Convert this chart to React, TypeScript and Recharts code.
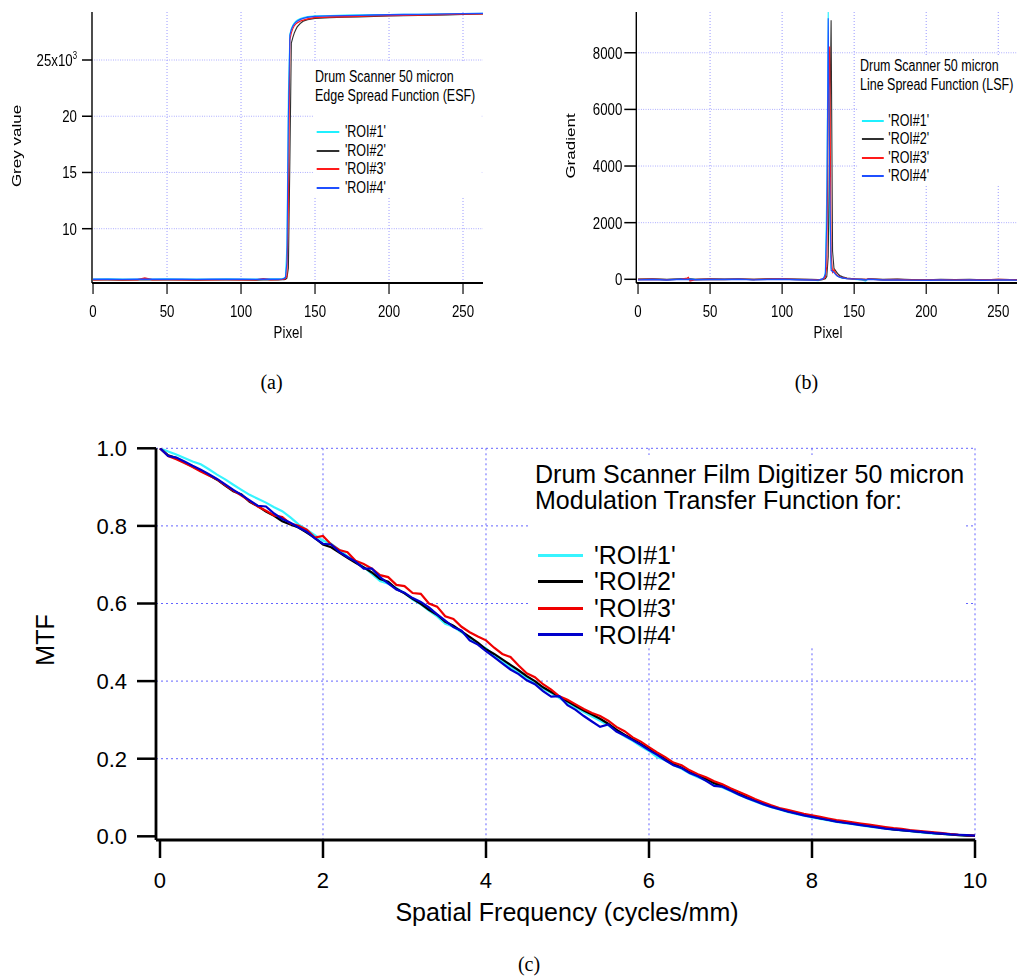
import React from 'react';
import { LineChart, Line, XAxis, YAxis, CartesianGrid } from 'recharts';

// ---------- data ----------
const seriesNames = ["'ROI#1'", "'ROI#2'", "'ROI#3'", "'ROI#4'"];
const topColors = ['#1ff0ff', '#303030', '#ff1a1a', '#1f4fff'];
const mtfColors = ['#38f4ff', '#000000', '#f00000', '#0000cc'];

const pixelTicks = [0, 50, 100, 150, 200, 250];
const esfYTicks = [10000, 15000, 20000, 25000];
const lsfYTicks = [0, 2000, 4000, 6000, 8000];
const freqTicks = [0, 2, 4, 6, 8, 10];
const mtfYTicks = [0, 0.2, 0.4, 0.6, 0.8, 1.0];

const esfPixels = [0, 10, 20, 30, 35, 40, 50, 60, 70, 80, 90, 100, 110, 115, 120, 125, 128, 129, 130, 131, 132, 133, 134, 135, 136, 137, 138, 140, 142, 145, 150, 160, 170, 180, 190, 200, 210, 220, 230, 240, 250, 264];
const esf1 = [5520, 5530, 5510, 5520, 5530, 5520, 5530, 5520, 5510, 5520, 5530, 5520, 5510, 5520, 5530, 5530, 5560, 5600, 5700, 8500, 22000, 27300, 27800, 28100, 28300, 28450, 28550, 28680, 28760, 28850, 28920, 28950, 28980, 29000, 29020, 29030, 29050, 29060, 29080, 29100, 29120, 29150];
const esf2 = [5450, 5460, 5440, 5450, 5460, 5450, 5460, 5450, 5440, 5450, 5460, 5450, 5440, 5450, 5460, 5460, 5470, 5480, 5500, 5600, 6500, 16000, 26500, 27000, 27400, 27700, 27950, 28250, 28450, 28600, 28700, 28780, 28820, 28850, 28880, 28920, 28950, 28970, 29000, 29030, 29060, 29100];
const esf3 = [5460, 5470, 5450, 5460, 5620, 5460, 5470, 5460, 5450, 5460, 5470, 5460, 5450, 5560, 5460, 5470, 5490, 5520, 5560, 5800, 12000, 26800, 27400, 27800, 28050, 28200, 28300, 28450, 28550, 28650, 28780, 28820, 28850, 28880, 28920, 28950, 28980, 29000, 29030, 29060, 29080, 29100];
const esf4 = [5500, 5510, 5490, 5500, 5510, 5500, 5510, 5500, 5490, 5500, 5510, 5500, 5490, 5500, 5510, 5510, 5540, 5580, 5650, 7000, 20000, 27200, 27700, 28000, 28200, 28350, 28450, 28600, 28700, 28800, 28880, 28920, 28950, 28970, 29000, 29020, 29040, 29060, 29080, 29100, 29120, 29150];

const lsfPixels = [0, 10, 20, 30, 34, 35, 36, 40, 50, 60, 70, 80, 90, 100, 110, 120, 125, 128, 129, 130, 131, 132, 133, 134, 135, 136, 137, 138, 139, 140, 142, 145, 150, 155, 158, 160, 170, 180, 190, 200, 210, 220, 230, 240, 250, 264];
const lsf1 = [-10, 5, -15, 10, 0, -5, 5, -10, 0, -5, 5, -10, 0, 5, -10, -20, -40, 0, 40, 250, 3200, 9450, 2200, 400, 320, 260, 190, 130, 100, 70, 45, 25, 0, -20, -60, 20, -20, -10, -30, -40, -20, -30, -20, -30, -20, -30];
const lsf2 = [0, 10, -5, 15, 5, 0, 10, -5, 10, 0, 15, -5, 10, 15, 0, -10, -15, -5, 5, 20, 100, 800, 5000, 9150, 1000, 380, 310, 240, 180, 130, 80, 40, 15, 0, -10, 10, -10, 0, -15, -20, -10, -15, -10, -20, -10, -15];
const lsf3 = [-10, 0, -15, 5, 40, 70, -60, -10, 0, -5, 5, -10, 0, 10, -5, -15, -20, 0, 20, 80, 450, 6000, 8220, 900, 250, 340, 220, 150, 110, 85, 50, 30, 10, -5, -10, 10, -15, -10, -20, -25, -15, -20, -15, -25, -10, -20];
const lsf4 = [-20, -10, -25, 0, -10, -5, 0, -15, -5, -10, 0, -20, -5, 0, -15, -25, -30, 10, 60, 180, 2100, 9220, 3600, 320, 280, 240, 180, 130, 95, 75, 45, 25, 5, -10, -20, 0, -25, -20, -30, -35, -25, -30, -25, -35, -20, -30];

const freq = [0, 0.1, 0.2, 0.3, 0.4, 0.5, 0.6, 0.7, 0.8, 0.9, 1.0, 1.1, 1.2, 1.3, 1.4, 1.5, 1.6, 1.7, 1.8, 1.9, 2.0, 2.1, 2.2, 2.3, 2.4, 2.5, 2.6, 2.7, 2.8, 2.9, 3.0, 3.1, 3.2, 3.3, 3.4, 3.5, 3.6, 3.7, 3.8, 3.9, 4.0, 4.1, 4.2, 4.3, 4.4, 4.5, 4.6, 4.7, 4.8, 4.9, 5.0, 5.1, 5.2, 5.3, 5.4, 5.5, 5.6, 5.7, 5.8, 5.9, 6.0, 6.1, 6.2, 6.3, 6.4, 6.5, 6.6, 6.7, 6.8, 6.9, 7.0, 7.1, 7.2, 7.3, 7.4, 7.5, 7.6, 7.7, 7.8, 7.9, 8.0, 8.1, 8.2, 8.3, 8.4, 8.5, 8.6, 8.7, 8.8, 8.9, 9.0, 9.1, 9.2, 9.3, 9.4, 9.5, 9.6, 9.7, 9.8, 9.9, 10.0];
const mtf1 = [1.000, 0.992, 0.984, 0.975, 0.966, 0.959, 0.946, 0.932, 0.920, 0.906, 0.893, 0.880, 0.870, 0.860, 0.848, 0.838, 0.822, 0.804, 0.790, 0.776, 0.762, 0.754, 0.738, 0.722, 0.707, 0.694, 0.676, 0.658, 0.651, 0.640, 0.627, 0.610, 0.598, 0.582, 0.567, 0.548, 0.540, 0.526, 0.510, 0.496, 0.484, 0.466, 0.450, 0.436, 0.422, 0.408, 0.394, 0.380, 0.369, 0.356, 0.343, 0.332, 0.320, 0.309, 0.298, 0.286, 0.272, 0.258, 0.246, 0.232, 0.220, 0.204, 0.196, 0.184, 0.174, 0.162, 0.152, 0.144, 0.134, 0.126, 0.117, 0.107, 0.098, 0.090, 0.082, 0.075, 0.069, 0.063, 0.058, 0.053, 0.049, 0.045, 0.041, 0.037, 0.034, 0.031, 0.028, 0.025, 0.022, 0.020, 0.017, 0.015, 0.013, 0.011, 0.009, 0.007, 0.006, 0.004, 0.003, 0.002, 0.001];
const mtf2 = [1.000, 0.982, 0.975, 0.964, 0.953, 0.943, 0.931, 0.919, 0.904, 0.889, 0.881, 0.862, 0.851, 0.837, 0.826, 0.812, 0.804, 0.796, 0.783, 0.769, 0.752, 0.745, 0.731, 0.718, 0.705, 0.693, 0.680, 0.663, 0.656, 0.638, 0.626, 0.612, 0.599, 0.584, 0.571, 0.553, 0.543, 0.528, 0.514, 0.499, 0.482, 0.470, 0.456, 0.442, 0.428, 0.413, 0.400, 0.384, 0.372, 0.360, 0.348, 0.336, 0.324, 0.314, 0.303, 0.290, 0.275, 0.262, 0.250, 0.238, 0.226, 0.213, 0.199, 0.187, 0.177, 0.166, 0.157, 0.148, 0.137, 0.130, 0.121, 0.110, 0.101, 0.093, 0.085, 0.078, 0.071, 0.065, 0.060, 0.055, 0.051, 0.047, 0.043, 0.039, 0.036, 0.033, 0.030, 0.027, 0.024, 0.021, 0.018, 0.016, 0.014, 0.012, 0.010, 0.008, 0.006, 0.005, 0.003, 0.002, 0.001];
const mtf3 = [1.000, 0.980, 0.972, 0.962, 0.952, 0.940, 0.930, 0.920, 0.905, 0.891, 0.878, 0.864, 0.850, 0.839, 0.827, 0.823, 0.806, 0.800, 0.790, 0.770, 0.774, 0.752, 0.738, 0.732, 0.710, 0.702, 0.690, 0.673, 0.668, 0.648, 0.645, 0.627, 0.625, 0.600, 0.592, 0.567, 0.560, 0.540, 0.526, 0.515, 0.505, 0.486, 0.470, 0.462, 0.440, 0.420, 0.410, 0.392, 0.378, 0.361, 0.352, 0.340, 0.328, 0.318, 0.310, 0.298, 0.282, 0.271, 0.255, 0.244, 0.230, 0.216, 0.204, 0.190, 0.183, 0.170, 0.160, 0.152, 0.142, 0.134, 0.124, 0.115, 0.106, 0.096, 0.088, 0.080, 0.073, 0.068, 0.063, 0.058, 0.054, 0.050, 0.046, 0.042, 0.039, 0.036, 0.033, 0.030, 0.027, 0.024, 0.021, 0.019, 0.016, 0.014, 0.012, 0.010, 0.008, 0.006, 0.004, 0.003, 0.002];
const mtf4 = [1.000, 0.980, 0.976, 0.966, 0.955, 0.945, 0.933, 0.921, 0.907, 0.893, 0.880, 0.866, 0.852, 0.850, 0.832, 0.818, 0.808, 0.796, 0.785, 0.768, 0.754, 0.752, 0.733, 0.720, 0.708, 0.690, 0.690, 0.668, 0.652, 0.636, 0.628, 0.614, 0.604, 0.590, 0.572, 0.556, 0.539, 0.530, 0.505, 0.494, 0.477, 0.462, 0.446, 0.430, 0.418, 0.402, 0.392, 0.374, 0.360, 0.361, 0.338, 0.326, 0.310, 0.296, 0.282, 0.288, 0.270, 0.260, 0.248, 0.236, 0.222, 0.210, 0.196, 0.183, 0.176, 0.163, 0.155, 0.143, 0.130, 0.128, 0.118, 0.108, 0.099, 0.091, 0.083, 0.076, 0.070, 0.064, 0.059, 0.054, 0.050, 0.046, 0.042, 0.038, 0.035, 0.032, 0.029, 0.026, 0.023, 0.020, 0.018, 0.016, 0.014, 0.012, 0.010, 0.008, 0.007, 0.005, 0.004, 0.003, 0.002];

const esfTitle = ['Drum Scanner 50 micron', 'Edge Spread Function (ESF)'];
const lsfTitle = ['Drum Scanner 50 micron', 'Line Spread Function (LSF)'];
const mtfTitle = ['Drum Scanner Film Digitizer 50 micron', 'Modulation Transfer Function for:'];

// ---------- helpers ----------
const zipXY = (xs: number[], ys: number[]) => xs.map((x, i) => ({ x, y: ys[i] }));
const esfSeries = [esf1, esf2, esf3, esf4].map((ys) => zipXY(esfPixels, ys));
const lsfSeries = [lsf1, lsf2, lsf3, lsf4].map((ys) => zipXY(lsfPixels, ys));
const mtfSeries = [mtf1, mtf2, mtf3, mtf4].map((ys) => zipXY(freq, ys));

const FONT = "'Liberation Sans', Arial, Helvetica, sans-serif";
const SERIF = "'Liberation Serif', 'DejaVu Serif', serif";
const S = 0.78; // horizontal squeeze of the two upper panels
const TOP_TICK_FS = 17;

const EsfYTick = (props: any) => {
  const { x, y, payload } = props;
  const v = payload.value;
  return (
    <text x={x} y={y} dy="0.355em" textAnchor="end" fontSize={TOP_TICK_FS} fill="#000" fontFamily={FONT}>
      {v === 25000 ? (
        <>
          25x10<tspan dy={-7} fontSize={10}>3</tspan>
        </>
      ) : (
        String(v / 1000)
      )}
    </text>
  );
};

type LegendProps = {
  left: number; top: number; width: number; height: number;
  padTop: number; padLeft: number; titles: string[]; titleLH: number;
  fontSize: number; gap: number; rowH: number; swLeft: number; swW: number; swH: number;
  textGap: number; colors: string[];
};
const LegendBox = (p: LegendProps) => (
  <div style={{ position: 'absolute', left: p.left, top: p.top, width: p.width, height: p.height, background: '#fff', boxSizing: 'border-box', paddingTop: p.padTop, fontFamily: FONT, fontSize: p.fontSize, color: '#000', whiteSpace: 'nowrap' }}>
    {p.titles.map((t) => (
      <div key={t} style={{ lineHeight: p.titleLH + 'px', height: p.titleLH, paddingLeft: p.padLeft }}>{t}</div>
    ))}
    <div style={{ height: p.gap }} />
    {seriesNames.map((n, i) => (
      <div key={n} style={{ display: 'flex', alignItems: 'center', height: p.rowH, lineHeight: p.rowH + 'px' }}>
        <div style={{ marginLeft: p.swLeft, width: p.swW, height: p.swH, background: p.colors[i] }} />
        <span style={{ marginLeft: p.textGap }}>{n}</span>
      </div>
    ))}
  </div>
);

const RotLabel = ({ cx, cy, text, size }: { cx: number; cy: number; text: string; size: number }) => (
  <div style={{ position: 'absolute', left: cx, top: cy, transform: 'translate(-50%, -50%) rotate(-90deg)', fontFamily: FONT, fontSize: size, whiteSpace: 'nowrap', lineHeight: 1 }}>{text}</div>
);
const HLabel = ({ cx, top, text, size, family }: { cx: number; top: number; text: string; size: number; family?: string }) => (
  <div style={{ position: 'absolute', left: cx, top, transform: 'translateX(-50%)', fontFamily: family || FONT, fontSize: size, whiteSpace: 'nowrap', lineHeight: size + 'px' }}>{text}</div>
);

const axisStyle = (w: number) => ({ stroke: '#000', strokeWidth: w });

// ---------- panels ----------
const PanelA = () => {
  const W = 500 / S;
  const yw = 80 / S;
  return (
    <div style={{ position: 'absolute', left: 0, top: 0, width: W, height: 345, transform: `scaleX(${S})`, transformOrigin: '0 0' }}>
      <LineChart width={W} height={345} margin={{ top: 12, right: 17 / S, bottom: 22, left: 92 / S - yw }}>
        <CartesianGrid stroke="#8c8cff" strokeDasharray="1 2" horizontalValues={esfYTicks} verticalValues={pixelTicks.filter((t) => t > 0)} />
        <XAxis dataKey="x" type="number" domain={[-0.7, 263.5]} allowDataOverflow ticks={pixelTicks} interval={0} height={40}
          tickSize={11} tickMargin={11} axisLine={axisStyle(1.8)} tickLine={axisStyle(1.5)} tick={{ fill: '#000', fontSize: TOP_TICK_FS, fontFamily: FONT }} />
        <YAxis dataKey="y" type="number" domain={[5172, 29268]} allowDataOverflow ticks={esfYTicks} interval={0} width={yw}
          tickSize={10 / S} tickMargin={5 / S} axisLine={axisStyle(1.8)} tickLine={axisStyle(1.5)} tick={<EsfYTick />} />
        {esfSeries.map((d, i) => (
          <Line key={i} data={d} dataKey="y" type="linear" stroke={topColors[i]} strokeWidth={1.4} dot={false} isAnimationActive={false} />
        ))}
      </LineChart>
      <RotLabel cx={16 / S} cy={146} text="Grey value" size={17} />
      <HLabel cx={288 / S} top={324} text="Pixel" size={17} />
      <LegendBox left={313 / S} top={62} width={168 / S} height={134} padTop={4.5} padLeft={2 / S} titles={esfTitle} titleLH={19}
        fontSize={16} gap={18.5} rowH={18.5} swLeft={3.7 / S} swW={22.6 / S} swH={2} textGap={5.7 / S} colors={topColors} />
    </div>
  );
};

const PanelB = () => {
  const W = 517 / S;
  const yw = 120 / S;
  return (
    <div style={{ position: 'absolute', left: 500, top: 0, width: W, height: 345, transform: `scaleX(${S})`, transformOrigin: '0 0' }}>
      <LineChart width={W} height={345} margin={{ top: 12, right: 0, bottom: 22, left: 136.3 / S - yw }}>
        <CartesianGrid stroke="#8c8cff" strokeDasharray="1 2" horizontalValues={lsfYTicks.filter((t) => t > 0)} verticalValues={pixelTicks.filter((t) => t > 0)} />
        <XAxis dataKey="x" type="number" domain={[-1.2, 263]} allowDataOverflow ticks={pixelTicks} interval={0} height={40}
          tickSize={11} tickMargin={11} axisLine={axisStyle(1.8)} tickLine={axisStyle(1.5)} tick={{ fill: '#000', fontSize: TOP_TICK_FS, fontFamily: FONT }} />
        <YAxis dataKey="y" type="number" domain={[-131, 9440]} allowDataOverflow ticks={lsfYTicks} interval={0} width={yw}
          tickSize={12 / S} tickMargin={2 / S} axisLine={axisStyle(1.8)} tickLine={axisStyle(1.5)} tick={{ fill: '#000', fontSize: TOP_TICK_FS, fontFamily: FONT }} />
        {lsfSeries.map((d, i) => (
          <Line key={i} data={d} dataKey="y" type="linear" stroke={topColors[i]} strokeWidth={1.4} dot={false} isAnimationActive={false} />
        ))}
      </LineChart>
      <RotLabel cx={70.7 / S} cy={146} text="Gradient" size={17} />
      <HLabel cx={328 / S} top={324} text="Pixel" size={17} />
      <LegendBox left={358 / S} top={55} width={159 / S} height={130} padTop={0.5} padLeft={2 / S} titles={lsfTitle} titleLH={19}
        fontSize={16} gap={18.5} rowH={18.3} swLeft={4.3 / S} swW={21.7 / S} swH={2} textGap={4.3 / S} colors={topColors} />
    </div>
  );
};

const PanelC = () => (
  <div style={{ position: 'absolute', left: 0, top: 390, width: 1017, height: 587 }}>
    <LineChart width={1017} height={587} margin={{ top: 58.3, right: 42, bottom: 77, left: 56 }}>
      <CartesianGrid stroke="#6464ff" strokeDasharray="2 3" horizontalValues={mtfYTicks.filter((t) => t > 0)} verticalValues={freqTicks.filter((t) => t > 0)} />
      <XAxis dataKey="x" type="number" domain={[-0.049, 10]} allowDataOverflow ticks={freqTicks} interval={0} height={60}
        tickSize={18} tickMargin={14} axisLine={axisStyle(2.8)} tickLine={axisStyle(2.5)} tick={{ fill: '#000', fontSize: 22, fontFamily: FONT }} />
      <YAxis dataKey="y" type="number" domain={[-0.0095, 1.0]} allowDataOverflow ticks={mtfYTicks} interval={0} width={100}
        tickSize={19} tickMargin={10} axisLine={axisStyle(2.8)} tickLine={axisStyle(2.5)}
        tickFormatter={(v: number) => v.toFixed(1)} tick={{ fill: '#000', fontSize: 22, fontFamily: FONT }} />
      {mtfSeries.map((d, i) => (
        <Line key={i} data={d} dataKey="y" type="linear" stroke={mtfColors[i]} strokeWidth={2.2} dot={false} isAnimationActive={false} />
      ))}
    </LineChart>
    <RotLabel cx={45} cy={250} text="MTF" size={25} />
    <HLabel cx={567} top={509.8} text="Spatial Frequency (cycles/mm)" size={25} />
    <LegendBox left={530} top={65} width={435} height={193} padTop={5.9} padLeft={5} titles={mtfTitle} titleLH={26.3}
      fontSize={25} gap={28.2} rowH={26.67} swLeft={8.3} swW={45} swH={3} textGap={10.7} colors={mtfColors} />
  </div>
);

export default function App() {
  return (
    <div style={{ position: 'absolute', left: 0, top: 0, width: 1017, height: 977, background: '#fff', overflow: 'hidden' }}>
      <PanelA />
      <PanelB />
      <PanelC />
      <HLabel cx={271.5} top={372} text="(a)" size={20} family={SERIF} />
      <HLabel cx={806.5} top={372} text="(b)" size={20} family={SERIF} />
      <HLabel cx={529} top={954} text="(c)" size={20} family={SERIF} />
    </div>
  );
}
